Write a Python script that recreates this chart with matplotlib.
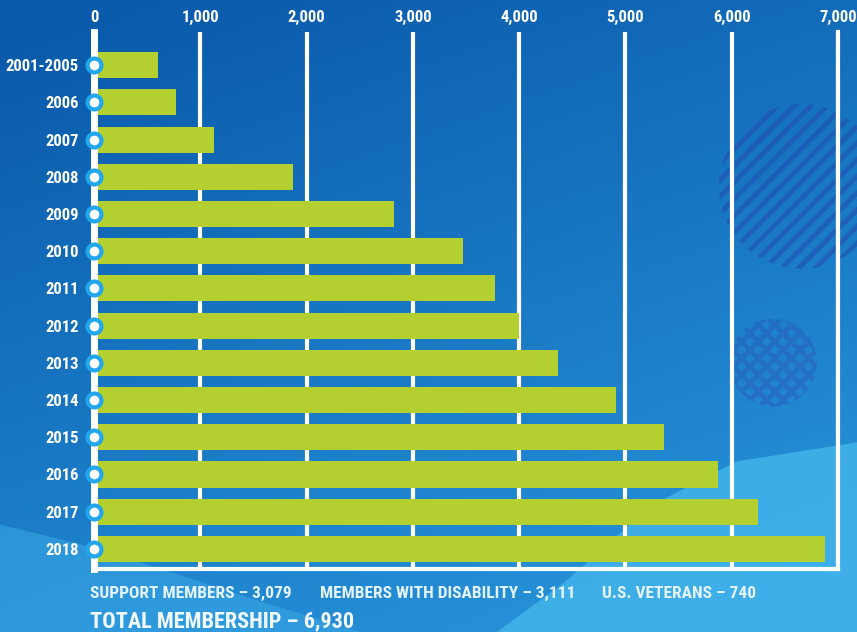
import numpy as np
import matplotlib
matplotlib.use("Agg")
import matplotlib.pyplot as plt
from matplotlib import font_manager
from matplotlib.patches import Ellipse, Polygon

# membership by year
years = ['2001-2005', '2006', '2007', '2008', '2009', '2010', '2011',
         '2012', '2013', '2014', '2015', '2016', '2017', '2018']
members = [600, 775, 1125, 1875, 2820, 3475, 3775,
           4000, 4365, 4910, 5365, 5875, 6245, 6875]
x_ticks = [0, 1000, 2000, 3000, 4000, 5000, 6000, 7000]
x_tick_labels = ['0', '1,000', '2,000', '3,000', '4,000', '5,000', '6,000', '7,000']
breakdown = ['SUPPORT MEMBERS \u2013 3,079', 'MEMBERS WITH DISABILITY \u2013 3,111',
             'U.S. VETERANS \u2013 740']
total_label = 'TOTAL MEMBERSHIP \u2013 6,930'

BAR = '#b3d030'
WHITE = '#ffffff'
RING = '#22a6ee'

# pick a narrow bold face if one is around
names = {f.name for f in font_manager.fontManager.ttflist}
narrow = [n for n in ['Liberation Sans Narrow', 'Roboto Condensed', 'DejaVu Sans'] if n in names]
FONT = narrow[0] if narrow else 'DejaVu Sans'
condensed = any(f.name == 'DejaVu Sans' and f.stretch == 'condensed'
                for f in font_manager.fontManager.ttflist)
STRETCH = 'condensed' if condensed else 'normal'
shrink = 1.0 if (FONT != 'DejaVu Sans' or condensed) else 0.85

plt.rcParams['font.family'] = [FONT, 'DejaVu Sans']
plt.rcParams['font.stretch'] = STRETCH
plt.rcParams['hatch.linewidth'] = 3.5

fig = plt.figure(figsize=(8.57, 6.32), dpi=100)

# background: blue gradient with a couple of lighter waves and hatched dots
bg = fig.add_axes([0, 0, 1, 1], zorder=0)
gx, gy = np.meshgrid(np.linspace(0, 1, 300), np.linspace(0, 1, 300))
t = np.clip(0.35 * gx + 0.75 * gy - 0.05, 0, 1)
c0 = np.array([10, 90, 170]) / 255
c1 = np.array([40, 150, 220]) / 255
img = c0[None, None, :] * (1 - t[..., None]) + c1[None, None, :] * t[..., None]
bg.imshow(img, extent=[0, 1, 0, 1], origin='upper', aspect='auto')
bg.add_patch(Polygon([(0.0, 0.0), (0.0, 0.17), (0.12, 0.13), (0.30, 0.05), (0.42, 0.0)],
                     closed=True, fc='#3aa9e6', ec='none', alpha=0.55))
bg.add_patch(Polygon([(0.58, 0.0), (0.66, 0.08), (0.76, 0.20), (0.86, 0.27), (1.0, 0.30),
                      (1.0, 0.0)], closed=True, fc='#45b6ec', ec='none', alpha=0.8))
bg.add_patch(Ellipse((0.935, 0.705), 165 / 857, 165 / 632, fc='none', ec='#2152b4',
                     lw=0, hatch='//', alpha=0.65))
bg.add_patch(Ellipse((0.902, 0.426), 88 / 857, 88 / 632, fc='none', ec='#2a5ec0',
                     lw=0, hatch='xx', alpha=0.55))
bg.set_xlim(0, 1)
bg.set_ylim(0, 1)
bg.axis('off')

ax = fig.add_axes([94 / 857, 1 - 569 / 632, (838 - 94) / 857, (569 - 32) / 632], zorder=1)
ax.patch.set_alpha(0)

y = np.arange(len(years))
ax.barh(y, members, height=0.7, color=BAR, zorder=3)
ax.plot(np.zeros(len(years)), y, 'o', ms=10, mfc=WHITE, mec=RING, mew=3,
        clip_on=False, zorder=6)

ax.set_xlim(0, 7000)
ax.set_ylim(13.54, -0.89)
ax.set_xticks(x_ticks, x_tick_labels)
ax.set_yticks(y, years)
ax.xaxis.tick_top()
ax.tick_params(axis='x', length=0, pad=5, labelcolor=WHITE, labelsize=12 * shrink)
ax.tick_params(axis='y', length=0, pad=11, labelcolor=WHITE, labelsize=12 * shrink)
for lab in ax.get_xticklabels() + ax.get_yticklabels():
    lab.set_fontweight('bold')

ax.grid(axis='x', color=WHITE, lw=3, zorder=1)
ax.set_axisbelow(True)
ax.spines['top'].set_visible(False)
ax.spines['left'].set_color(WHITE)
ax.spines['left'].set_linewidth(5)
ax.spines['left'].set_zorder(4)
for side in ['bottom', 'right']:
    ax.spines[side].set_color(WHITE)
    ax.spines[side].set_linewidth(3)

# footer text
for label, xp in zip(breakdown, [90, 320, 602]):
    fig.text(xp / 857, 1 - 598 / 632, label, color='#e4f3fc', fontsize=12.5 * shrink,
             fontweight='bold', va='baseline', ha='left')
fig.text(90 / 857, 1 - 627 / 632, total_label, color='#f2f9fe', fontsize=16 * shrink,
         fontweight='bold', va='baseline', ha='left')

fig.savefig('out.png', dpi=100)
